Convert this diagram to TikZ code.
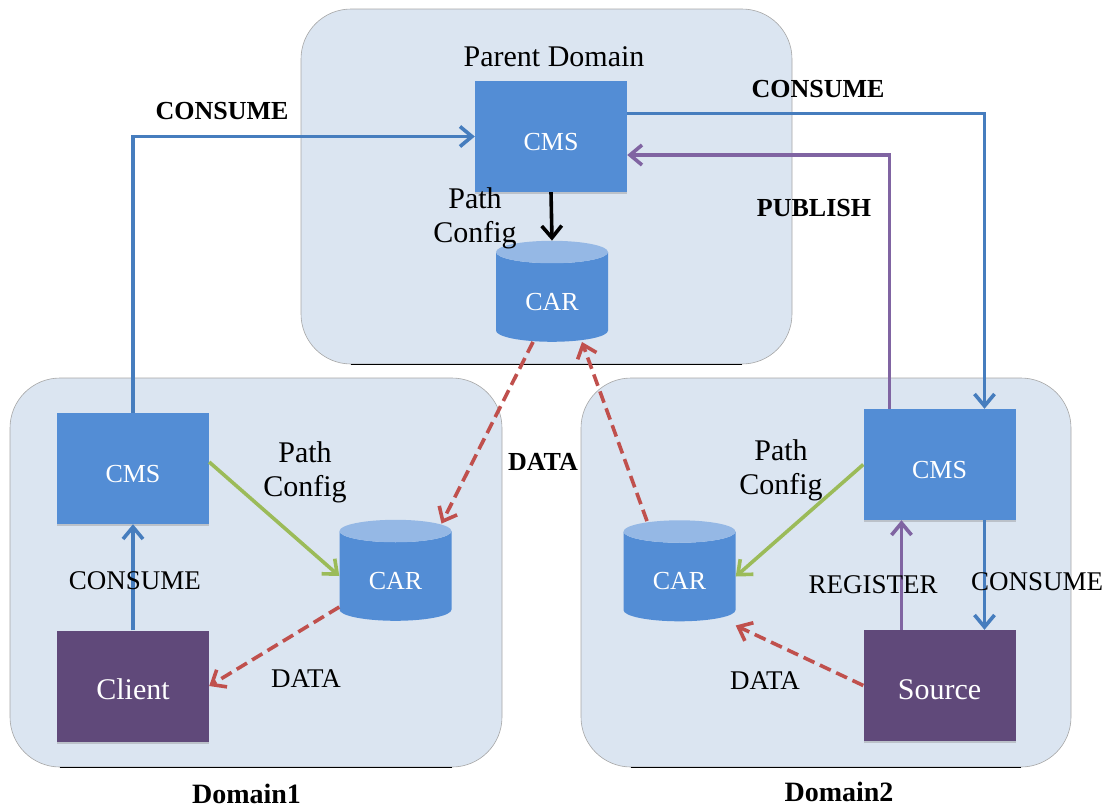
\documentclass[tikz,border=0pt]{standalone}
\usepackage{fontspec}
\setmainfont{Liberation Serif}
\usetikzlibrary{shapes.geometric,arrows.meta,shadows}
\definecolor{DomainBlue}{RGB}{219,229,241}
\definecolor{BoxBlue}{RGB}{83,141,213}
\definecolor{TopBlue}{RGB}{149,184,229}
\definecolor{LinkBlue}{RGB}{70,125,190}
\definecolor{BoxPurple}{RGB}{96,73,122}
\definecolor{LinkPurple}{RGB}{128,100,162}
\definecolor{LinkGreen}{RGB}{155,187,89}
\definecolor{LinkRed}{RGB}{192,80,77}
\tikzset{
  domainbox/.style={draw=black!35, line width=0.6pt, fill=DomainBlue, rounded corners=50pt, minimum width=#1, inner sep=0pt},
  softshadow/.style={drop shadow={shadow xshift=0pt, shadow yshift=-2pt, opacity=0.35}},
  cmsbox/.style={fill=BoxBlue, text=white, minimum width=152pt, minimum height=111pt, inner sep=0pt, softshadow, text height=27pt, text depth=0pt, font=\fontsize{26}{30}\selectfont},
  hostbox/.style={cmsbox, fill=BoxPurple, font=\fontsize{30}{34}\selectfont},
  carbox/.style={cylinder, shape border rotate=90, aspect=0.42, cylinder uses custom fill, cylinder body fill=BoxBlue, cylinder end fill=TopBlue, text=white, minimum width=112pt, minimum height=101pt, inner sep=0pt, text height=26pt, text depth=0pt, font=\fontsize{26}{30}\selectfont},
  lbl/.style={inner sep=0pt, align=center, font=\fontsize{30}{34}\selectfont},
  caplbl/.style={inner sep=0pt, font=\fontsize{27}{30}\selectfont},
  boldlbl/.style={inner sep=0pt, font=\fontsize{26}{30}\selectfont\bfseries},
  domlbl/.style={inner sep=0pt, anchor=base, font=\fontsize{28}{30}\selectfont\bfseries},
  bluelink/.style={draw=LinkBlue, line width=3.6pt, -{Straight Barb[length=12pt,width=20pt,line width=3.6pt]}},
  purplelink/.style={bluelink, draw=LinkPurple},
  greenlink/.style={bluelink, draw=LinkGreen},
  blacklink/.style={bluelink, draw=black},
  datalink/.style={bluelink, draw=LinkRed, dash pattern=on 12pt off 6pt},
}
\begin{document}
\begin{tikzpicture}[x=1pt, y=-1pt]
\useasboundingbox (0,0) rectangle (1105,807);

% domains
\node[domainbox=491pt, minimum height=355pt] (parent) at (546.5,186.5) {};
\node[domainbox=492pt, minimum height=389pt] (domA) at (256,572.5) {};
\node[domainbox=490pt, minimum height=389pt] (domB) at (826,572.5) {};
\draw[line width=1.2pt] ([xshift=50pt]parent.south west) -- ([xshift=-50pt]parent.south east);
\draw[line width=1.2pt] ([xshift=50pt]domA.south west) -- ([xshift=-50pt]domA.south east);
\draw[line width=1.2pt] ([xshift=50pt]domB.south west) -- ([xshift=-50pt]domB.south east);

% boxes
\node[cmsbox] (cmsP) at (551,136.5) {CMS};
\node[cmsbox] (cmsA) at (133,468.5) {CMS};
\node[cmsbox] (cmsB) at (939.5,464.5) {CMS};
\node[hostbox] (client) at (133,686) {Client};
\node[hostbox] (source) at (939.5,685.5) {Source};
\node[carbox] (carP) at (552,297) {CAR};
\node[carbox] (carA) at (395.5,576) {CAR};
\node[carbox] (carB) at (679.5,576.5) {CAR};

% solid links
\draw[bluelink] (client.north) -- (cmsA.south);
\draw[bluelink] (cmsA.north) |- (cmsP.west);
\draw[bluelink] ([yshift=23pt]cmsP.east) -| ([xshift=45pt]cmsB.north);
\draw[purplelink] ([xshift=-50pt]cmsB.north) |- ([yshift=-18.5pt]cmsP.east);
\draw[blacklink] (cmsP.south) -- (carP.north);
\draw[greenlink] ([yshift=6.5pt]cmsA.east) -- (carA.west);
\draw[greenlink] (cmsB.west) -- (carB.east);
\draw[purplelink] ([xshift=-38pt]source.north) -- ([xshift=-38pt]cmsB.south);
\draw[bluelink] ([xshift=45pt]cmsB.south) -- ([xshift=45pt]source.north);

% data links
\draw[datalink] ([xshift=-19pt]carP.south) -- ([xshift=46pt,yshift=-4pt]carA.north);
\draw[datalink] ([xshift=-32.5pt,yshift=-1pt]carB.north) -- ([xshift=30pt]carP.south);
\draw[datalink] ([yshift=-31pt]carA.west) -- (client.east);
\draw[datalink] (source.west) -- ([yshift=-49pt]carB.east);

% labels
\node[lbl] (lblParent) at (554,57) {Parent Domain};
\node[lbl] (lblPathP) at (475,218) {Path\\Config};
\node[lbl] (lblPathA) at (305,472) {Path\\Config};
\node[lbl] (lblPathB) at (781,470) {Path\\Config};
\node[boldlbl] (lblConsA) at (222,111) {CONSUME};
\node[boldlbl] (lblConsP) at (818,89) {CONSUME};
\node[boldlbl] (lblPub) at (814,208) {PUBLISH};
\node[boldlbl] (lblData) at (543,462) {DATA};
\node[caplbl] (lblConsC) at (135,581) {CONSUME};
\node[caplbl] (lblConsS) at (1037,582) {CONSUME};
\node[caplbl] (lblReg) at (873,585) {REGISTER};
\node[caplbl] (lblDataA) at (306,679) {DATA};
\node[caplbl] (lblDataB) at (765,681) {DATA};
\node[domlbl] (lblDomA) at (246.5,803) {Domain1};
\node[domlbl] (lblDomB) at (839,801) {Domain2};
\end{tikzpicture}
\end{document}
